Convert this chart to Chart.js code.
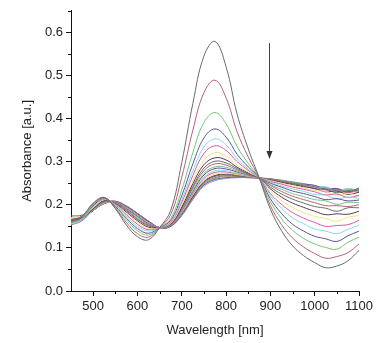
<!DOCTYPE html>
<html>
<head>
<meta charset="utf-8">
<script src="https://cdn.jsdelivr.net/npm/chart.js@4.4.1/dist/chart.umd.min.js"></script>
<style>
html,body{margin:0;padding:0;background:#fff;}
#wrap{position:relative;width:377px;height:343px;}
</style>
</head>
<body>
<div id="wrap"><canvas id="c" width="377" height="343"></canvas></div>
<script>
// Wavelength grid (nm)
const wavelengths = [450,475,500,525,550,575,600,625,650,675,700,725,750,775,800,825,850,875,900,925,950,975,1000,1025,1050,1075,1100];

// Absorbance spectra (successive scans)
const s01 = [0.165,0.174,0.204,0.217,0.191,0.153,0.126,0.119,0.147,0.187,0.298,0.435,0.545,0.579,0.520,0.410,0.330,0.262,0.190,0.140,0.105,0.082,0.066,0.054,0.058,0.070,0.094];
const s02 = [0.164,0.173,0.202,0.216,0.192,0.159,0.133,0.125,0.147,0.177,0.264,0.373,0.460,0.489,0.448,0.369,0.311,0.262,0.198,0.154,0.123,0.102,0.087,0.076,0.080,0.089,0.109];
const s03 = [0.158,0.168,0.200,0.216,0.194,0.165,0.140,0.130,0.147,0.168,0.235,0.321,0.391,0.414,0.388,0.335,0.296,0.262,0.207,0.168,0.141,0.122,0.109,0.101,0.097,0.113,0.125];
const s04 = [0.163,0.171,0.198,0.215,0.196,0.169,0.145,0.134,0.147,0.164,0.221,0.295,0.355,0.376,0.357,0.317,0.288,0.262,0.214,0.180,0.155,0.139,0.127,0.121,0.115,0.128,0.139];
const s05 = [0.155,0.166,0.196,0.214,0.198,0.174,0.150,0.139,0.147,0.161,0.212,0.279,0.334,0.353,0.339,0.307,0.283,0.262,0.221,0.192,0.170,0.156,0.144,0.139,0.133,0.143,0.153];
const s06 = [0.162,0.169,0.195,0.213,0.200,0.177,0.155,0.142,0.147,0.159,0.206,0.268,0.319,0.337,0.326,0.300,0.280,0.262,0.226,0.201,0.182,0.169,0.159,0.150,0.152,0.154,0.164];
const s07 = [0.170,0.174,0.193,0.212,0.201,0.180,0.159,0.145,0.147,0.157,0.200,0.257,0.303,0.321,0.313,0.292,0.276,0.262,0.232,0.210,0.194,0.182,0.173,0.168,0.162,0.171,0.175];
const s08 = [0.162,0.169,0.191,0.210,0.202,0.183,0.163,0.148,0.147,0.156,0.195,0.249,0.293,0.309,0.304,0.287,0.274,0.262,0.237,0.218,0.204,0.194,0.185,0.177,0.179,0.178,0.185];
const s09 = [0.174,0.176,0.191,0.209,0.203,0.186,0.166,0.151,0.147,0.155,0.192,0.243,0.285,0.301,0.297,0.284,0.272,0.262,0.241,0.225,0.213,0.204,0.196,0.192,0.185,0.193,0.193];
const s10 = [0.161,0.168,0.190,0.208,0.204,0.188,0.168,0.153,0.147,0.154,0.190,0.239,0.279,0.295,0.292,0.281,0.271,0.262,0.245,0.231,0.220,0.212,0.205,0.198,0.198,0.196,0.200];
const s11 = [0.156,0.165,0.189,0.207,0.205,0.189,0.171,0.154,0.147,0.154,0.187,0.234,0.273,0.288,0.287,0.278,0.270,0.262,0.247,0.236,0.226,0.219,0.212,0.209,0.201,0.206,0.205];
const s12 = [0.166,0.170,0.189,0.206,0.206,0.191,0.173,0.156,0.147,0.153,0.186,0.231,0.269,0.284,0.283,0.276,0.269,0.262,0.250,0.241,0.232,0.226,0.219,0.212,0.214,0.209,0.211];
const s13 = [0.161,0.168,0.188,0.205,0.206,0.192,0.174,0.157,0.147,0.153,0.184,0.228,0.264,0.279,0.279,0.273,0.268,0.262,0.252,0.244,0.237,0.231,0.224,0.222,0.214,0.218,0.215];
const s14 = [0.153,0.163,0.188,0.205,0.207,0.194,0.176,0.159,0.147,0.152,0.182,0.225,0.261,0.275,0.276,0.272,0.267,0.262,0.254,0.248,0.241,0.236,0.230,0.223,0.225,0.217,0.222];
const s15 = [0.168,0.171,0.188,0.204,0.207,0.194,0.177,0.159,0.147,0.152,0.181,0.223,0.257,0.271,0.273,0.270,0.266,0.262,0.256,0.250,0.244,0.239,0.233,0.231,0.222,0.226,0.219];
const s16 = [0.160,0.167,0.187,0.204,0.207,0.195,0.178,0.160,0.147,0.151,0.180,0.220,0.254,0.268,0.271,0.269,0.266,0.262,0.257,0.252,0.247,0.242,0.238,0.230,0.232,0.224,0.229];
const s17 = [0.157,0.165,0.187,0.204,0.207,0.196,0.178,0.161,0.147,0.151,0.179,0.219,0.252,0.266,0.269,0.267,0.265,0.262,0.258,0.253,0.249,0.244,0.237,0.236,0.228,0.233,0.234];
const s18 = [0.164,0.169,0.187,0.203,0.208,0.196,0.179,0.161,0.147,0.151,0.178,0.217,0.250,0.263,0.267,0.266,0.264,0.262,0.259,0.255,0.250,0.246,0.242,0.234,0.235,0.228,0.236];
const s19 = [0.160,0.167,0.187,0.203,0.208,0.197,0.179,0.162,0.147,0.151,0.177,0.215,0.248,0.261,0.265,0.265,0.264,0.262,0.259,0.256,0.252,0.247,0.240,0.240,0.231,0.236,0.231];
const s20 = [0.165,0.169,0.187,0.203,0.208,0.197,0.180,0.162,0.147,0.150,0.176,0.214,0.246,0.259,0.263,0.264,0.263,0.262,0.260,0.256,0.252,0.248,0.245,0.236,0.238,0.230,0.239];
const s21 = [0.158,0.166,0.187,0.203,0.208,0.197,0.180,0.162,0.147,0.150,0.175,0.213,0.244,0.257,0.262,0.263,0.263,0.262,0.260,0.257,0.253,0.249,0.242,0.242,0.233,0.238,0.233];
const s22 = [0.160,0.167,0.187,0.203,0.208,0.197,0.180,0.162,0.147,0.150,0.175,0.212,0.243,0.256,0.261,0.263,0.263,0.262,0.260,0.257,0.253,0.249,0.244,0.238,0.236,0.231,0.230];

const spectra = [s01,s02,s03,s04,s05,s06,s07,s08,s09,s10,s11,s12,s13,s14,s15,s16,s17,s18,s19,s20,s21,s22];

// Axis ticks
const xMajorTicks = [500,600,700,800,900,1000,1100];
const xMinorTicks = [550,650,750,850,950,1050];
const yMajorTicks = [0.0,0.1,0.2,0.3,0.4,0.5,0.6];
const yMinorTicks = [0.05,0.15,0.25,0.35,0.45,0.55,0.65];

// Arrow annotation (data coordinates: wavelength, absorbance from -> to)
const arrowX = 898;
const arrowFrom = 0.575;
const arrowTo = 0.306;

const palette = ['#6b6b6b','#b3607f','#74c474','#56569a','#8ad6ea','#d75aa6','#ece67c','#5c3a4c'];

const datasets = spectra.map((s, i) => ({
  label: 'scan ' + (i + 1),
  data: s.map((v, j) => ({x: wavelengths[j], y: v})),
  borderColor: palette[i % palette.length],
  borderWidth: 1,
  pointRadius: 0,
  fill: false,
  tension: 0.4
}));

const FONT = {family: '"Liberation Sans", Arial, sans-serif', size: 13};

const extras = {
  id: 'extras',
  afterDraw(chart) {
    const ctx = chart.ctx;
    const xs = chart.scales.x, ys = chart.scales.y;
    ctx.save();
    ctx.strokeStyle = '#111';
    ctx.lineWidth = 1;
    xMinorTicks.forEach(v => {
      const px = Math.round(xs.getPixelForValue(v)) + 0.5;
      ctx.beginPath(); ctx.moveTo(px, ys.bottom); ctx.lineTo(px, ys.bottom + 3); ctx.stroke();
    });
    yMinorTicks.forEach(v => {
      const py = Math.round(ys.getPixelForValue(v)) + 0.5;
      ctx.beginPath(); ctx.moveTo(xs.left, py); ctx.lineTo(xs.left - 3, py); ctx.stroke();
    });
    const ax = Math.round(xs.getPixelForValue(arrowX)) + 0.5;
    const ay1 = ys.getPixelForValue(arrowFrom);
    const ay2 = ys.getPixelForValue(arrowTo);
    ctx.strokeStyle = '#444';
    ctx.fillStyle = '#333';
    ctx.beginPath(); ctx.moveTo(ax, ay1); ctx.lineTo(ax, ay2 - 6); ctx.stroke();
    ctx.beginPath();
    ctx.moveTo(ax, ay2);
    ctx.lineTo(ax - 3, ay2 - 8);
    ctx.lineTo(ax + 3, ay2 - 8);
    ctx.closePath();
    ctx.fill();
    ctx.restore();
  }
};

new Chart(document.getElementById('c'), {
  type: 'line',
  data: {datasets},
  options: {
    responsive: false,
    animation: false,
    events: [],
    layout: {padding: {left: 0, right: 18, top: 7, bottom: 0}},
    plugins: {legend: {display: false}, tooltip: {enabled: false}},
    scales: {
      x: {
        type: 'linear',
        min: 450, max: 1100,
        afterFit(scale) { scale.height = 52; },
        afterBuildTicks(scale) { scale.ticks = xMajorTicks.map(v => ({value: v})); },
        ticks: {font: FONT, color: '#222', padding: 3, maxRotation: 0, autoSkip: false,
                callback: v => String(v)},
        grid: {display: true, drawOnChartArea: false, drawTicks: true, tickLength: 5, color: '#111'},
        border: {display: true, color: '#111', width: 1},
        title: {display: true, text: 'Wavelength [nm]', font: FONT, color: '#222', padding: {top: 0, bottom: 5}}
      },
      y: {
        min: 0, max: 0.65,
        afterFit(scale) { scale.width = 71; },
        afterBuildTicks(scale) { scale.ticks = yMajorTicks.map(v => ({value: v})); },
        ticks: {font: FONT, color: '#222', padding: 3, autoSkip: false,
                callback: v => Number(v).toFixed(1)},
        grid: {display: true, drawOnChartArea: false, drawTicks: true, tickLength: 5, color: '#111'},
        border: {display: true, color: '#111', width: 1},
        title: {display: true, text: 'Absorbance [a.u.]', font: FONT, color: '#222', padding: {top: 20, bottom: 0}}
      }
    }
  },
  plugins: [extras]
});
</script>
</body>
</html>
